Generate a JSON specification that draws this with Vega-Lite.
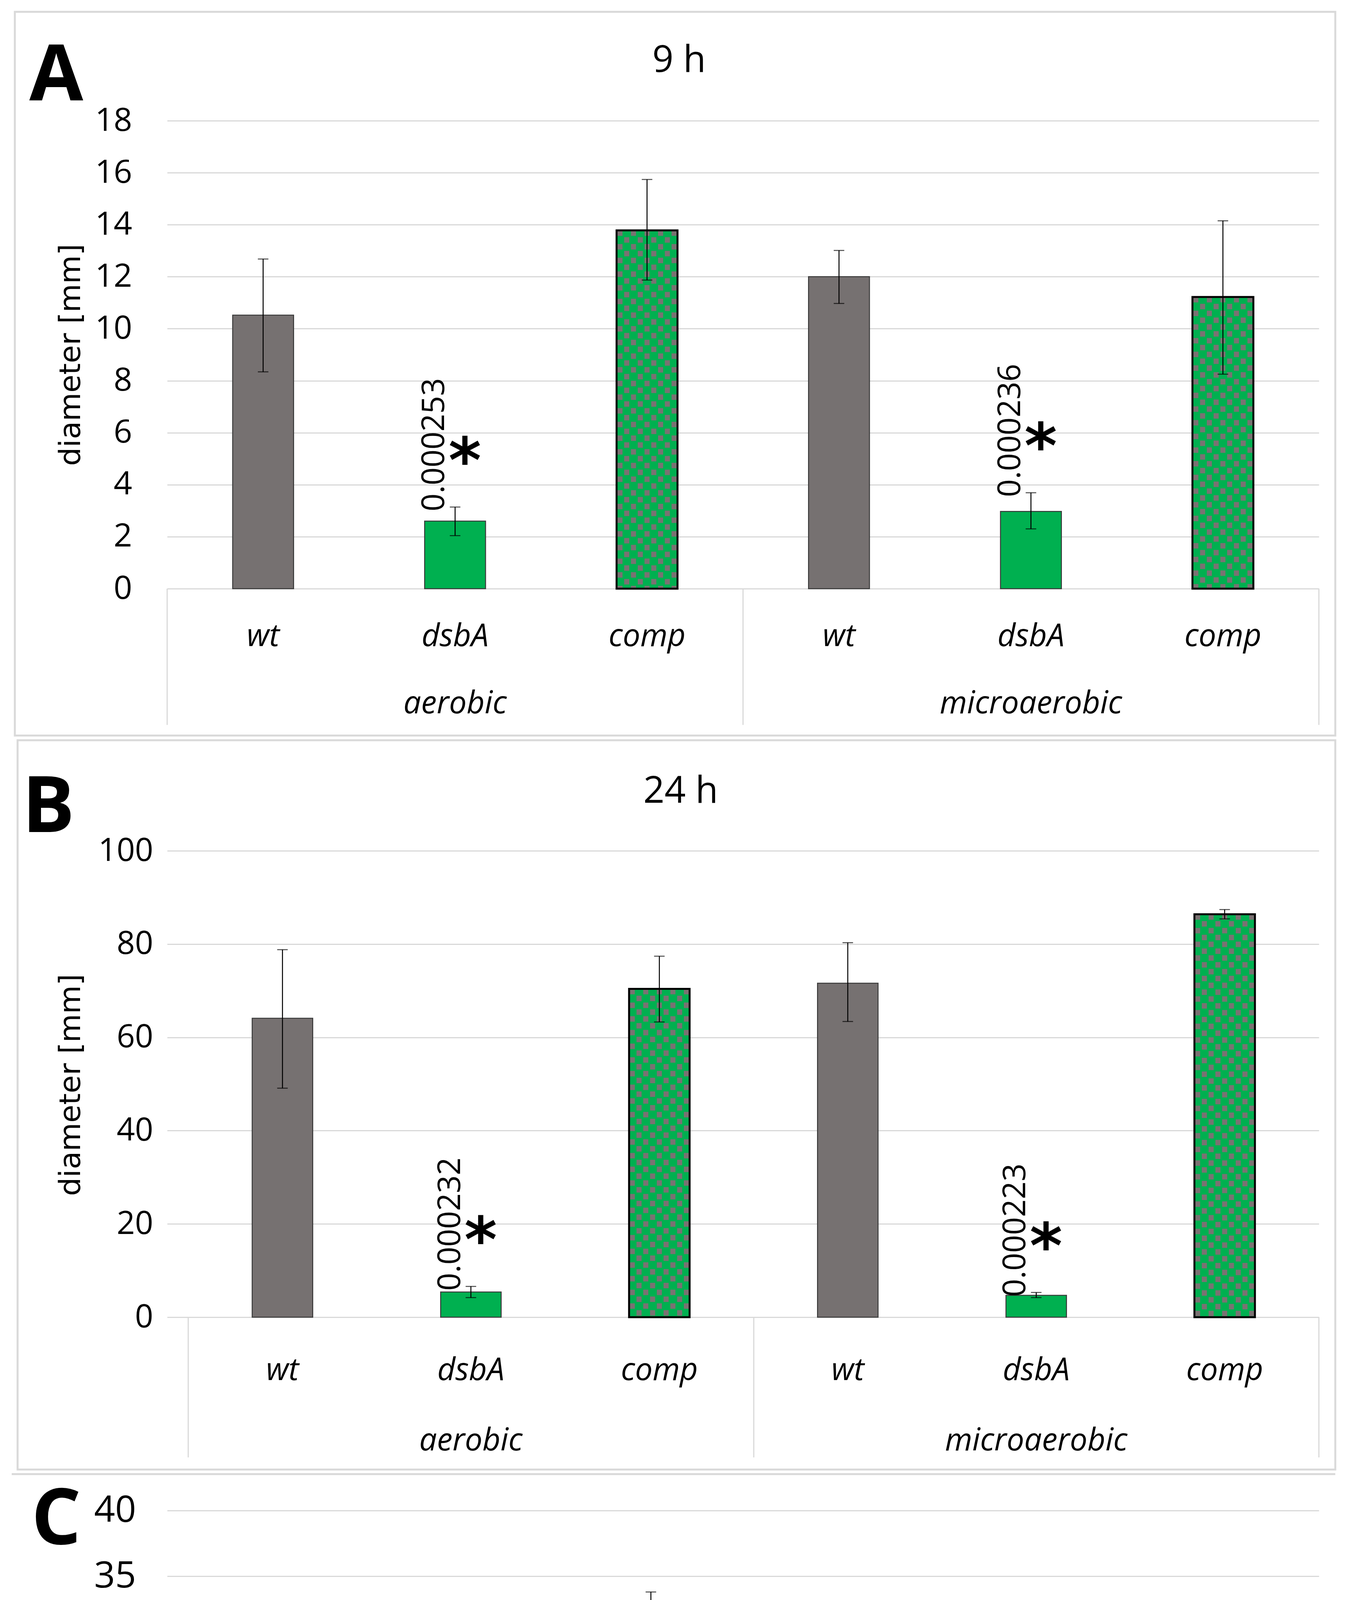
{
  "$schema": "https://vega.github.io/schema/vega-lite/v6.json",
  "background": "white",
  "autosize": {"type": "pad", "resize": true},
  "padding": {"left": 27, "top": 27, "right": 10, "bottom": 10},
  "spacing": 6,
  "config": {"view": {"stroke": null}},
  "datasets": {
    "a": [
      {"cat": "aerobic|wt", "strain": "wt", "mean": 10.52, "lo": 8.34, "hi": 12.68},
      {"cat": "aerobic|dsbA", "strain": "dsbA", "mean": 2.6, "lo": 2.04, "hi": 3.14, "p": "0.000253"},
      {"cat": "aerobic|comp", "strain": "comp", "mean": 13.78, "lo": 11.87, "hi": 15.74},
      {"cat": "microaerobic|wt", "strain": "wt", "mean": 12.0, "lo": 10.97, "hi": 13.01},
      {"cat": "microaerobic|dsbA", "strain": "dsbA", "mean": 2.97, "lo": 2.3, "hi": 3.69, "p": "0.000236"},
      {"cat": "microaerobic|comp", "strain": "comp", "mean": 11.22, "lo": 8.25, "hi": 14.15}
    ],
    "b": [
      {"cat": "aerobic|wt", "strain": "wt", "mean": 64.1, "lo": 49.1, "hi": 78.8},
      {"cat": "aerobic|dsbA", "strain": "dsbA", "mean": 5.4, "lo": 4.2, "hi": 6.6, "p": "0.000232"},
      {"cat": "aerobic|comp", "strain": "comp", "mean": 70.4, "lo": 63.3, "hi": 77.4},
      {"cat": "microaerobic|wt", "strain": "wt", "mean": 71.6, "lo": 63.4, "hi": 80.3},
      {"cat": "microaerobic|dsbA", "strain": "dsbA", "mean": 4.7, "lo": 4.2, "hi": 5.3, "p": "0.000223"},
      {"cat": "microaerobic|comp", "strain": "comp", "mean": 86.4, "lo": 85.4, "hi": 87.4}
    ],
    "c": [
      {"cat": "aerobic|wt", "strain": "wt", "mean": 28.6, "lo": 25.3, "hi": 31.9},
      {"cat": "aerobic|dsbA", "strain": "dsbA", "mean": 8.98, "lo": 7.79, "hi": 10.26, "p": "0.000223"},
      {"cat": "aerobic|comp", "strain": "comp", "mean": 31.2, "lo": 28.6, "hi": 33.8},
      {"cat": "microaerobic|wt", "strain": "wt", "mean": 27.4, "lo": 25.6, "hi": 29.2},
      {"cat": "microaerobic|dsbA", "strain": "dsbA", "mean": 6.16, "lo": 5.44, "hi": 7.0, "p": "0.000223"},
      {"cat": "microaerobic|comp", "strain": "comp", "mean": 26.2, "lo": 25.3, "hi": 27.1}
    ]
  },
  "vconcat": [
    {
      "width": 2949,
      "height": 1198,
      "resolve": {"scale": {"x": "independent", "y": "independent"}, "axis": {"x": "independent", "y": "independent"}},
      "layer": [
        {
          "data": {"name": "a"},
          "encoding": {
            "x": {"field": "cat", "type": "nominal", "sort": null,
              "scale": {"domain": ["aerobic|wt", "aerobic|dsbA", "aerobic|comp", "microaerobic|wt", "microaerobic|dsbA", "microaerobic|comp"], "paddingInner": 0.6826, "paddingOuter": 0.3413, "align": 0.5, "round": false},
              "axis": {"title": null, "labelExpr": "split(datum.value, '|')[1] == 'dsbA' ? ['dsbA', split(datum.value, '|')[0]] : split(datum.value, '|')[1]", "labelFont": "Open Sans", "labelFontStyle": "italic", "labelFontSize": 80, "labelPadding": 83, "labelLineHeight": 172, "labelBaseline": "top", "labelAngle": 0, "ticks": false, "tickSize": 0, "domain": false, "grid": false, "labelLimit": 0, "labelOverlap": false, "labelColor": "#000000"}}
          },
          "layer": [
            {
              "transform": [{"filter": "datum.strain != 'comp'"}],
              "mark": {"type": "bar", "stroke": "#3A3A3A", "strokeWidth": 2.5},
              "encoding": {
                "y": {"field": "mean", "type": "quantitative", "scale": {"domain": [0, 18], "nice": false, "zero": true},
                  "axis": {"title": "diameter [mm]", "values": [0, 2, 4, 6, 8, 10, 12, 14, 16, 18], "format": "d", "grid": true, "gridColor": "#D9D9D9", "gridWidth": 3, "ticks": false, "tickSize": 0, "domain": false, "labelFont": "Open Sans", "labelFontSize": 83, "labelPadding": 90, "labelColor": "#000000", "labelLimit": 0, "titleFont": "DejaVu Sans", "titleFontSize": 75, "titleFontWeight": "normal", "titleColor": "#000000", "titleAngle": 270, "titleAlign": "center", "titleBaseline": "alphabetic", "titleX": -224, "titleY": 599}},
                "fill": {"field": "strain", "type": "nominal", "scale": {"domain": ["wt", "dsbA"], "range": ["#767171", "#00B050"]}, "legend": null}
              }
            },
            {"transform": [{"filter": "datum.strain == 'comp'"}], "mark": {"type": "bar", "fill": "#00B050", "strokeWidth": 0}, "encoding": {"y": {"field": "mean", "type": "quantitative", "scale": {"domain": [0, 18], "nice": false, "zero": true}}}},
            {"transform": [{"filter": "datum.strain == 'comp'"}], "mark": {"type": "rule", "color": "#7A7272", "strokeWidth": 13, "strokeDash": [14, 21], "strokeDashOffset": 0, "xOffset": -69.3}, "encoding": {"y": {"field": "mean", "type": "quantitative", "scale": {"domain": [0, 18], "nice": false, "zero": true}}, "y2": {"datum": 0}}},
            {"transform": [{"filter": "datum.strain == 'comp'"}], "mark": {"type": "rule", "color": "#7A7272", "strokeWidth": 13, "strokeDash": [14, 21], "strokeDashOffset": 17.5, "xOffset": -52}, "encoding": {"y": {"field": "mean", "type": "quantitative", "scale": {"domain": [0, 18], "nice": false, "zero": true}}, "y2": {"datum": 0}}},
            {"transform": [{"filter": "datum.strain == 'comp'"}], "mark": {"type": "rule", "color": "#7A7272", "strokeWidth": 13, "strokeDash": [14, 21], "strokeDashOffset": 0, "xOffset": -34.7}, "encoding": {"y": {"field": "mean", "type": "quantitative", "scale": {"domain": [0, 18], "nice": false, "zero": true}}, "y2": {"datum": 0}}},
            {"transform": [{"filter": "datum.strain == 'comp'"}], "mark": {"type": "rule", "color": "#7A7272", "strokeWidth": 13, "strokeDash": [14, 21], "strokeDashOffset": 17.5, "xOffset": -17.3}, "encoding": {"y": {"field": "mean", "type": "quantitative", "scale": {"domain": [0, 18], "nice": false, "zero": true}}, "y2": {"datum": 0}}},
            {"transform": [{"filter": "datum.strain == 'comp'"}], "mark": {"type": "rule", "color": "#7A7272", "strokeWidth": 13, "strokeDash": [14, 21], "strokeDashOffset": 0, "xOffset": 0}, "encoding": {"y": {"field": "mean", "type": "quantitative", "scale": {"domain": [0, 18], "nice": false, "zero": true}}, "y2": {"datum": 0}}},
            {"transform": [{"filter": "datum.strain == 'comp'"}], "mark": {"type": "rule", "color": "#7A7272", "strokeWidth": 13, "strokeDash": [14, 21], "strokeDashOffset": 17.5, "xOffset": 17.3}, "encoding": {"y": {"field": "mean", "type": "quantitative", "scale": {"domain": [0, 18], "nice": false, "zero": true}}, "y2": {"datum": 0}}},
            {"transform": [{"filter": "datum.strain == 'comp'"}], "mark": {"type": "rule", "color": "#7A7272", "strokeWidth": 13, "strokeDash": [14, 21], "strokeDashOffset": 0, "xOffset": 34.7}, "encoding": {"y": {"field": "mean", "type": "quantitative", "scale": {"domain": [0, 18], "nice": false, "zero": true}}, "y2": {"datum": 0}}},
            {"transform": [{"filter": "datum.strain == 'comp'"}], "mark": {"type": "rule", "color": "#7A7272", "strokeWidth": 13, "strokeDash": [14, 21], "strokeDashOffset": 17.5, "xOffset": 52}, "encoding": {"y": {"field": "mean", "type": "quantitative", "scale": {"domain": [0, 18], "nice": false, "zero": true}}, "y2": {"datum": 0}}},
            {"transform": [{"filter": "datum.strain == 'comp'"}], "mark": {"type": "rule", "color": "#7A7272", "strokeWidth": 13, "strokeDash": [14, 21], "strokeDashOffset": 0, "xOffset": 69.3}, "encoding": {"y": {"field": "mean", "type": "quantitative", "scale": {"domain": [0, 18], "nice": false, "zero": true}}, "y2": {"datum": 0}}},
            {"transform": [{"filter": "datum.strain == 'comp'"}], "mark": {"type": "bar", "fillOpacity": 0, "stroke": "#000000", "strokeWidth": 5}, "encoding": {"y": {"field": "mean", "type": "quantitative", "scale": {"domain": [0, 18], "nice": false, "zero": true}}}},
            {
              "mark": {"type": "rule", "color": "#000000", "strokeWidth": 2.5},
              "encoding": {"y": {"field": "lo", "type": "quantitative", "scale": {"domain": [0, 18], "nice": false, "zero": true}}, "y2": {"field": "hi"}}
            },
            {
              "mark": {"type": "tick", "color": "#000000", "size": 27, "thickness": 2.5},
              "encoding": {"y": {"field": "hi", "type": "quantitative", "scale": {"domain": [0, 18], "nice": false, "zero": true}}}
            },
            {
              "mark": {"type": "tick", "color": "#000000", "size": 27, "thickness": 2.5},
              "encoding": {"y": {"field": "lo", "type": "quantitative", "scale": {"domain": [0, 18], "nice": false, "zero": true}}}
            },
            {
              "transform": [{"filter": "datum.p != null"}],
              "mark": {"type": "text", "angle": 270, "align": "left", "baseline": "bottom", "font": "Open Sans", "fontSize": 80, "dx": -11, "dy": -11, "color": "#000000"},
              "encoding": {"y": {"field": "hi", "type": "quantitative", "scale": {"domain": [0, 18], "nice": false, "zero": true}}, "text": {"field": "p", "type": "nominal"}}
            },
            {
              "transform": [{"filter": "datum.p != null"}],
              "mark": {"type": "text", "text": "*", "font": "DejaVu Sans", "fontWeight": "bold", "fontSize": 160, "align": "center", "baseline": "alphabetic", "dx": 25, "dy": -63, "color": "#000000"},
              "encoding": {"y": {"field": "hi", "type": "quantitative", "scale": {"domain": [0, 18], "nice": false, "zero": true}}}
            }
          ]
        },
        {
          "data": {"values": [{}]},
          "layer": [
            {
              "mark": {"type": "rect", "filled": false, "stroke": "#D9D9D9", "strokeWidth": 5},
              "encoding": {
                "x": {"datum": -0.7935, "type": "quantitative", "scale": {"domain": [0, 6], "nice": false, "zero": false}, "axis": null},
                "x2": {"datum": 6.0855},
                "y": {"datum": 22.19, "type": "quantitative", "scale": {"domain": [0, 18], "nice": false, "zero": true}, "axis": null},
                "y2": {"datum": -5.65}
              }
            },
            {
              "mark": {"type": "rule", "color": "#D9D9D9", "strokeWidth": 3},
              "encoding": {
                "x": {"datum": 0, "type": "quantitative", "scale": {"domain": [0, 6], "nice": false, "zero": false}, "axis": null},
                "y": {"datum": 0, "type": "quantitative", "scale": {"domain": [0, 18], "nice": false, "zero": true}, "axis": null},
                "y2": {"datum": -5.24}
              }
            },
            {
              "mark": {"type": "rule", "color": "#D9D9D9", "strokeWidth": 3},
              "encoding": {
                "x": {"datum": 3.0, "type": "quantitative", "scale": {"domain": [0, 6], "nice": false, "zero": false}, "axis": null},
                "y": {"datum": 0, "type": "quantitative", "scale": {"domain": [0, 18], "nice": false, "zero": true}, "axis": null},
                "y2": {"datum": -5.24}
              }
            },
            {
              "mark": {"type": "rule", "color": "#D9D9D9", "strokeWidth": 3},
              "encoding": {
                "x": {"datum": 6.0, "type": "quantitative", "scale": {"domain": [0, 6], "nice": false, "zero": false}, "axis": null},
                "y": {"datum": 0, "type": "quantitative", "scale": {"domain": [0, 18], "nice": false, "zero": true}, "axis": null},
                "y2": {"datum": -5.24}
              }
            },
            {
              "mark": {"type": "text", "text": "A", "font": "Open Sans", "fontWeight": "bold", "fontSize": 200, "align": "center", "baseline": "alphabetic", "color": "#000000"},
              "encoding": {
                "x": {"datum": -0.578, "type": "quantitative", "scale": {"domain": [0, 6], "nice": false, "zero": false}, "axis": null},
                "y": {"datum": 18.78, "type": "quantitative", "scale": {"domain": [0, 18], "nice": false, "zero": true}, "axis": null}
              }
            },
            {
              "mark": {"type": "text", "text": "9 h", "font": "Open Sans", "fontSize": 95, "align": "center", "baseline": "alphabetic", "color": "#000000"},
              "encoding": {
                "x": {"datum": 2.667, "type": "quantitative", "scale": {"domain": [0, 6], "nice": false, "zero": false}, "axis": null},
                "y": {"datum": 19.877, "type": "quantitative", "scale": {"domain": [0, 18], "nice": false, "zero": true}, "axis": null}
              }
            }
          ]
        }
      ]
    },
    {
      "width": 2949,
      "height": 1380,
      "resolve": {"scale": {"x": "independent", "y": "independent"}, "axis": {"x": "independent", "y": "independent"}},
      "layer": [
        {
          "data": {"name": "b"},
          "encoding": {
            "x": {"field": "cat", "type": "nominal", "sort": null,
              "scale": {"domain": ["aerobic|wt", "aerobic|dsbA", "aerobic|comp", "microaerobic|wt", "microaerobic|dsbA", "microaerobic|comp"], "paddingInner": 0.6788, "paddingOuter": 0.3953, "align": 0.5708, "round": false},
              "axis": {"title": null, "labelExpr": "split(datum.value, '|')[1] == 'dsbA' ? ['dsbA', split(datum.value, '|')[0]] : split(datum.value, '|')[1]", "labelFont": "Open Sans", "labelFontStyle": "italic", "labelFontSize": 80, "labelPadding": 97, "labelLineHeight": 180, "labelBaseline": "top", "labelAngle": 0, "ticks": false, "tickSize": 0, "domain": false, "grid": false, "labelLimit": 0, "labelOverlap": false, "labelColor": "#000000"}}
          },
          "layer": [
            {
              "transform": [{"filter": "datum.strain != 'comp'"}],
              "mark": {"type": "bar", "stroke": "#3A3A3A", "strokeWidth": 2.5},
              "encoding": {
                "y": {"field": "mean", "type": "quantitative", "scale": {"domain": [0, 115.58], "nice": false, "zero": true},
                  "axis": {"title": "diameter [mm]", "values": [0, 20, 40, 60, 80, 100], "format": "d", "grid": true, "gridColor": "#D9D9D9", "gridWidth": 3, "ticks": false, "tickSize": 0, "domain": false, "labelFont": "Open Sans", "labelFontSize": 82, "labelPadding": 36, "labelColor": "#000000", "labelLimit": 0, "titleFont": "DejaVu Sans", "titleFontSize": 75, "titleFontWeight": "normal", "titleColor": "#000000", "titleAngle": 270, "titleAlign": "center", "titleBaseline": "alphabetic", "titleX": -224, "titleY": 785}},
                "fill": {"field": "strain", "type": "nominal", "scale": {"domain": ["wt", "dsbA"], "range": ["#767171", "#00B050"]}, "legend": null}
              }
            },
            {"transform": [{"filter": "datum.strain == 'comp'"}], "mark": {"type": "bar", "fill": "#00B050", "strokeWidth": 0}, "encoding": {"y": {"field": "mean", "type": "quantitative", "scale": {"domain": [0, 115.58], "nice": false, "zero": true}}}},
            {"transform": [{"filter": "datum.strain == 'comp'"}], "mark": {"type": "rule", "color": "#7A7272", "strokeWidth": 13, "strokeDash": [14, 21], "strokeDashOffset": 0, "xOffset": -69.3}, "encoding": {"y": {"field": "mean", "type": "quantitative", "scale": {"domain": [0, 115.58], "nice": false, "zero": true}}, "y2": {"datum": 0}}},
            {"transform": [{"filter": "datum.strain == 'comp'"}], "mark": {"type": "rule", "color": "#7A7272", "strokeWidth": 13, "strokeDash": [14, 21], "strokeDashOffset": 17.5, "xOffset": -52}, "encoding": {"y": {"field": "mean", "type": "quantitative", "scale": {"domain": [0, 115.58], "nice": false, "zero": true}}, "y2": {"datum": 0}}},
            {"transform": [{"filter": "datum.strain == 'comp'"}], "mark": {"type": "rule", "color": "#7A7272", "strokeWidth": 13, "strokeDash": [14, 21], "strokeDashOffset": 0, "xOffset": -34.7}, "encoding": {"y": {"field": "mean", "type": "quantitative", "scale": {"domain": [0, 115.58], "nice": false, "zero": true}}, "y2": {"datum": 0}}},
            {"transform": [{"filter": "datum.strain == 'comp'"}], "mark": {"type": "rule", "color": "#7A7272", "strokeWidth": 13, "strokeDash": [14, 21], "strokeDashOffset": 17.5, "xOffset": -17.3}, "encoding": {"y": {"field": "mean", "type": "quantitative", "scale": {"domain": [0, 115.58], "nice": false, "zero": true}}, "y2": {"datum": 0}}},
            {"transform": [{"filter": "datum.strain == 'comp'"}], "mark": {"type": "rule", "color": "#7A7272", "strokeWidth": 13, "strokeDash": [14, 21], "strokeDashOffset": 0, "xOffset": 0}, "encoding": {"y": {"field": "mean", "type": "quantitative", "scale": {"domain": [0, 115.58], "nice": false, "zero": true}}, "y2": {"datum": 0}}},
            {"transform": [{"filter": "datum.strain == 'comp'"}], "mark": {"type": "rule", "color": "#7A7272", "strokeWidth": 13, "strokeDash": [14, 21], "strokeDashOffset": 17.5, "xOffset": 17.3}, "encoding": {"y": {"field": "mean", "type": "quantitative", "scale": {"domain": [0, 115.58], "nice": false, "zero": true}}, "y2": {"datum": 0}}},
            {"transform": [{"filter": "datum.strain == 'comp'"}], "mark": {"type": "rule", "color": "#7A7272", "strokeWidth": 13, "strokeDash": [14, 21], "strokeDashOffset": 0, "xOffset": 34.7}, "encoding": {"y": {"field": "mean", "type": "quantitative", "scale": {"domain": [0, 115.58], "nice": false, "zero": true}}, "y2": {"datum": 0}}},
            {"transform": [{"filter": "datum.strain == 'comp'"}], "mark": {"type": "rule", "color": "#7A7272", "strokeWidth": 13, "strokeDash": [14, 21], "strokeDashOffset": 17.5, "xOffset": 52}, "encoding": {"y": {"field": "mean", "type": "quantitative", "scale": {"domain": [0, 115.58], "nice": false, "zero": true}}, "y2": {"datum": 0}}},
            {"transform": [{"filter": "datum.strain == 'comp'"}], "mark": {"type": "rule", "color": "#7A7272", "strokeWidth": 13, "strokeDash": [14, 21], "strokeDashOffset": 0, "xOffset": 69.3}, "encoding": {"y": {"field": "mean", "type": "quantitative", "scale": {"domain": [0, 115.58], "nice": false, "zero": true}}, "y2": {"datum": 0}}},
            {"transform": [{"filter": "datum.strain == 'comp'"}], "mark": {"type": "bar", "fillOpacity": 0, "stroke": "#000000", "strokeWidth": 5}, "encoding": {"y": {"field": "mean", "type": "quantitative", "scale": {"domain": [0, 115.58], "nice": false, "zero": true}}}},
            {
              "mark": {"type": "rule", "color": "#000000", "strokeWidth": 2.5},
              "encoding": {"y": {"field": "lo", "type": "quantitative", "scale": {"domain": [0, 115.58], "nice": false, "zero": true}}, "y2": {"field": "hi"}}
            },
            {
              "mark": {"type": "tick", "color": "#000000", "size": 27, "thickness": 2.5},
              "encoding": {"y": {"field": "hi", "type": "quantitative", "scale": {"domain": [0, 115.58], "nice": false, "zero": true}}}
            },
            {
              "mark": {"type": "tick", "color": "#000000", "size": 27, "thickness": 2.5},
              "encoding": {"y": {"field": "lo", "type": "quantitative", "scale": {"domain": [0, 115.58], "nice": false, "zero": true}}}
            },
            {
              "transform": [{"filter": "datum.p != null"}],
              "mark": {"type": "text", "angle": 270, "align": "left", "baseline": "bottom", "font": "Open Sans", "fontSize": 80, "dx": -11, "dy": -11, "color": "#000000"},
              "encoding": {"y": {"field": "hi", "type": "quantitative", "scale": {"domain": [0, 115.58], "nice": false, "zero": true}}, "text": {"field": "p", "type": "nominal"}}
            },
            {
              "transform": [{"filter": "datum.p != null"}],
              "mark": {"type": "text", "text": "*", "font": "DejaVu Sans", "fontWeight": "bold", "fontSize": 160, "align": "center", "baseline": "alphabetic", "dx": 25, "dy": -63, "color": "#000000"},
              "encoding": {"y": {"field": "hi", "type": "quantitative", "scale": {"domain": [0, 115.58], "nice": false, "zero": true}}}
            }
          ]
        },
        {
          "data": {"values": [{}]},
          "layer": [
            {
              "mark": {"type": "rect", "filled": false, "stroke": "#D9D9D9", "strokeWidth": 5},
              "encoding": {
                "x": {"datum": -0.7792, "type": "quantitative", "scale": {"domain": [0, 6], "nice": false, "zero": false}, "axis": null},
                "x2": {"datum": 6.0855},
                "y": {"datum": 123.7, "type": "quantitative", "scale": {"domain": [0, 115.58], "nice": false, "zero": true}, "axis": null},
                "y2": {"datum": -32.66}
              }
            },
            {
              "mark": {"type": "rule", "color": "#D9D9D9", "strokeWidth": 3},
              "encoding": {
                "x": {"datum": 0.1099, "type": "quantitative", "scale": {"domain": [0, 6], "nice": false, "zero": false}, "axis": null},
                "y": {"datum": 0, "type": "quantitative", "scale": {"domain": [0, 115.58], "nice": false, "zero": true}, "axis": null},
                "y2": {"datum": -30.07}
              }
            },
            {
              "mark": {"type": "rule", "color": "#D9D9D9", "strokeWidth": 3},
              "encoding": {
                "x": {"datum": 3.0559, "type": "quantitative", "scale": {"domain": [0, 6], "nice": false, "zero": false}, "axis": null},
                "y": {"datum": 0, "type": "quantitative", "scale": {"domain": [0, 115.58], "nice": false, "zero": true}, "axis": null},
                "y2": {"datum": -30.07}
              }
            },
            {
              "mark": {"type": "rule", "color": "#D9D9D9", "strokeWidth": 3},
              "encoding": {
                "x": {"datum": 6.0, "type": "quantitative", "scale": {"domain": [0, 6], "nice": false, "zero": false}, "axis": null},
                "y": {"datum": 0, "type": "quantitative", "scale": {"domain": [0, 115.58], "nice": false, "zero": true}, "axis": null},
                "y2": {"datum": -30.07}
              }
            },
            {
              "mark": {"type": "text", "text": "B", "font": "Open Sans", "fontWeight": "bold", "fontSize": 200, "align": "center", "baseline": "alphabetic", "color": "#000000"},
              "encoding": {
                "x": {"datum": -0.6185, "type": "quantitative", "scale": {"domain": [0, 6], "nice": false, "zero": false}, "axis": null},
                "y": {"datum": 104.02, "type": "quantitative", "scale": {"domain": [0, 115.58], "nice": false, "zero": true}, "axis": null}
              }
            },
            {
              "mark": {"type": "text", "text": "24 h", "font": "Open Sans", "fontSize": 95, "align": "center", "baseline": "alphabetic", "color": "#000000"},
              "encoding": {
                "x": {"datum": 2.6755, "type": "quantitative", "scale": {"domain": [0, 6], "nice": false, "zero": false}, "axis": null},
                "y": {"datum": 110.3, "type": "quantitative", "scale": {"domain": [0, 115.58], "nice": false, "zero": true}, "axis": null}
              }
            }
          ]
        }
      ]
    },
    {
      "width": 2949,
      "height": 1345,
      "resolve": {"scale": {"x": "independent", "y": "independent"}, "axis": {"x": "independent", "y": "independent"}},
      "layer": [
        {
          "data": {"name": "c"},
          "encoding": {
            "x": {"field": "cat", "type": "nominal", "sort": null,
              "scale": {"domain": ["aerobic|wt", "aerobic|dsbA", "aerobic|comp", "microaerobic|wt", "microaerobic|dsbA", "microaerobic|comp"], "paddingInner": 0.6849, "paddingOuter": 0.3598, "align": 0.524, "round": false},
              "axis": {"title": null, "labelExpr": "split(datum.value, '|')[1] == 'dsbA' ? ['dsbA', split(datum.value, '|')[0]] : split(datum.value, '|')[1]", "labelFont": "Open Sans", "labelFontStyle": "italic", "labelFontSize": 93, "labelPadding": 95, "labelLineHeight": 202, "labelBaseline": "top", "labelAngle": 0, "ticks": false, "tickSize": 0, "domain": false, "grid": false, "labelLimit": 0, "labelOverlap": false, "labelColor": "#000000"}}
          },
          "layer": [
            {
              "transform": [{"filter": "datum.strain != 'comp'"}],
              "mark": {"type": "bar", "stroke": "#3A3A3A", "strokeWidth": 2.5},
              "encoding": {
                "y": {"field": "mean", "type": "quantitative", "scale": {"domain": [0, 40], "nice": false, "zero": true},
                  "axis": {"title": "diameter [mm]", "values": [0, 5, 10, 15, 20, 25, 30, 35, 40], "format": "d", "grid": true, "gridColor": "#D9D9D9", "gridWidth": 3, "ticks": false, "tickSize": 0, "domain": false, "labelFont": "Open Sans", "labelFontSize": 94, "labelPadding": 80, "labelColor": "#000000", "labelLimit": 0, "titleFont": "DejaVu Sans", "titleFontSize": 85, "titleFontWeight": "normal", "titleColor": "#000000", "titleAngle": 270, "titleAlign": "center", "titleBaseline": "alphabetic", "titleX": -240, "titleY": 676}},
                "fill": {"field": "strain", "type": "nominal", "scale": {"domain": ["wt", "dsbA"], "range": ["#767171", "#00B050"]}, "legend": null}
              }
            },
            {"transform": [{"filter": "datum.strain == 'comp'"}], "mark": {"type": "bar", "fill": "#00B050", "strokeWidth": 0}, "encoding": {"y": {"field": "mean", "type": "quantitative", "scale": {"domain": [0, 40], "nice": false, "zero": true}}}},
            {"transform": [{"filter": "datum.strain == 'comp'"}], "mark": {"type": "rule", "color": "#7A7272", "strokeWidth": 13, "strokeDash": [14, 21], "strokeDashOffset": 0, "xOffset": -69.3}, "encoding": {"y": {"field": "mean", "type": "quantitative", "scale": {"domain": [0, 40], "nice": false, "zero": true}}, "y2": {"datum": 0}}},
            {"transform": [{"filter": "datum.strain == 'comp'"}], "mark": {"type": "rule", "color": "#7A7272", "strokeWidth": 13, "strokeDash": [14, 21], "strokeDashOffset": 17.5, "xOffset": -52}, "encoding": {"y": {"field": "mean", "type": "quantitative", "scale": {"domain": [0, 40], "nice": false, "zero": true}}, "y2": {"datum": 0}}},
            {"transform": [{"filter": "datum.strain == 'comp'"}], "mark": {"type": "rule", "color": "#7A7272", "strokeWidth": 13, "strokeDash": [14, 21], "strokeDashOffset": 0, "xOffset": -34.7}, "encoding": {"y": {"field": "mean", "type": "quantitative", "scale": {"domain": [0, 40], "nice": false, "zero": true}}, "y2": {"datum": 0}}},
            {"transform": [{"filter": "datum.strain == 'comp'"}], "mark": {"type": "rule", "color": "#7A7272", "strokeWidth": 13, "strokeDash": [14, 21], "strokeDashOffset": 17.5, "xOffset": -17.3}, "encoding": {"y": {"field": "mean", "type": "quantitative", "scale": {"domain": [0, 40], "nice": false, "zero": true}}, "y2": {"datum": 0}}},
            {"transform": [{"filter": "datum.strain == 'comp'"}], "mark": {"type": "rule", "color": "#7A7272", "strokeWidth": 13, "strokeDash": [14, 21], "strokeDashOffset": 0, "xOffset": 0}, "encoding": {"y": {"field": "mean", "type": "quantitative", "scale": {"domain": [0, 40], "nice": false, "zero": true}}, "y2": {"datum": 0}}},
            {"transform": [{"filter": "datum.strain == 'comp'"}], "mark": {"type": "rule", "color": "#7A7272", "strokeWidth": 13, "strokeDash": [14, 21], "strokeDashOffset": 17.5, "xOffset": 17.3}, "encoding": {"y": {"field": "mean", "type": "quantitative", "scale": {"domain": [0, 40], "nice": false, "zero": true}}, "y2": {"datum": 0}}},
            {"transform": [{"filter": "datum.strain == 'comp'"}], "mark": {"type": "rule", "color": "#7A7272", "strokeWidth": 13, "strokeDash": [14, 21], "strokeDashOffset": 0, "xOffset": 34.7}, "encoding": {"y": {"field": "mean", "type": "quantitative", "scale": {"domain": [0, 40], "nice": false, "zero": true}}, "y2": {"datum": 0}}},
            {"transform": [{"filter": "datum.strain == 'comp'"}], "mark": {"type": "rule", "color": "#7A7272", "strokeWidth": 13, "strokeDash": [14, 21], "strokeDashOffset": 17.5, "xOffset": 52}, "encoding": {"y": {"field": "mean", "type": "quantitative", "scale": {"domain": [0, 40], "nice": false, "zero": true}}, "y2": {"datum": 0}}},
            {"transform": [{"filter": "datum.strain == 'comp'"}], "mark": {"type": "rule", "color": "#7A7272", "strokeWidth": 13, "strokeDash": [14, 21], "strokeDashOffset": 0, "xOffset": 69.3}, "encoding": {"y": {"field": "mean", "type": "quantitative", "scale": {"domain": [0, 40], "nice": false, "zero": true}}, "y2": {"datum": 0}}},
            {"transform": [{"filter": "datum.strain == 'comp'"}], "mark": {"type": "bar", "fillOpacity": 0, "stroke": "#000000", "strokeWidth": 5}, "encoding": {"y": {"field": "mean", "type": "quantitative", "scale": {"domain": [0, 40], "nice": false, "zero": true}}}},
            {
              "mark": {"type": "rule", "color": "#000000", "strokeWidth": 2.5},
              "encoding": {"y": {"field": "lo", "type": "quantitative", "scale": {"domain": [0, 40], "nice": false, "zero": true}}, "y2": {"field": "hi"}}
            },
            {
              "mark": {"type": "tick", "color": "#000000", "size": 27, "thickness": 2.5},
              "encoding": {"y": {"field": "hi", "type": "quantitative", "scale": {"domain": [0, 40], "nice": false, "zero": true}}}
            },
            {
              "mark": {"type": "tick", "color": "#000000", "size": 27, "thickness": 2.5},
              "encoding": {"y": {"field": "lo", "type": "quantitative", "scale": {"domain": [0, 40], "nice": false, "zero": true}}}
            },
            {
              "transform": [{"filter": "datum.p != null"}],
              "mark": {"type": "text", "angle": 270, "align": "left", "baseline": "bottom", "font": "Open Sans", "fontSize": 80, "dx": -11, "dy": -11, "color": "#000000"},
              "encoding": {"y": {"field": "hi", "type": "quantitative", "scale": {"domain": [0, 40], "nice": false, "zero": true}}, "text": {"field": "p", "type": "nominal"}}
            },
            {
              "transform": [{"filter": "datum.p != null"}],
              "mark": {"type": "text", "text": "*", "font": "DejaVu Sans", "fontWeight": "bold", "fontSize": 160, "align": "center", "baseline": "alphabetic", "dx": 25, "dy": -63, "color": "#000000"},
              "encoding": {"y": {"field": "hi", "type": "quantitative", "scale": {"domain": [0, 40], "nice": false, "zero": true}}}
            }
          ]
        },
        {
          "data": {"values": [{}]},
          "layer": [
            {
              "mark": {"type": "rule", "color": "#D9D9D9", "strokeWidth": 5},
              "encoding": {
                "x": {"datum": -0.8098, "type": "quantitative", "scale": {"domain": [0, 6], "nice": false, "zero": false}, "axis": null},
                "x2": {"datum": 6.0855},
                "y": {"datum": 42.77, "type": "quantitative", "scale": {"domain": [0, 40], "nice": false, "zero": true}, "axis": null}
              }
            },
            {
              "mark": {"type": "rule", "color": "#D9D9D9", "strokeWidth": 3},
              "encoding": {
                "x": {"datum": 0.0346, "type": "quantitative", "scale": {"domain": [0, 6], "nice": false, "zero": false}, "axis": null},
                "y": {"datum": 0, "type": "quantitative", "scale": {"domain": [0, 40], "nice": false, "zero": true}, "axis": null},
                "y2": {"datum": -12.01}
              }
            },
            {
              "mark": {"type": "rule", "color": "#D9D9D9", "strokeWidth": 3},
              "encoding": {
                "x": {"datum": 3.0234, "type": "quantitative", "scale": {"domain": [0, 6], "nice": false, "zero": false}, "axis": null},
                "y": {"datum": 0, "type": "quantitative", "scale": {"domain": [0, 40], "nice": false, "zero": true}, "axis": null},
                "y2": {"datum": -12.01}
              }
            },
            {
              "mark": {"type": "rule", "color": "#D9D9D9", "strokeWidth": 3},
              "encoding": {
                "x": {"datum": 6.0, "type": "quantitative", "scale": {"domain": [0, 6], "nice": false, "zero": false}, "axis": null},
                "y": {"datum": 0, "type": "quantitative", "scale": {"domain": [0, 40], "nice": false, "zero": true}, "axis": null},
                "y2": {"datum": -12.01}
              }
            },
            {
              "mark": {"type": "text", "text": "C", "font": "Open Sans", "fontWeight": "bold", "fontSize": 200, "align": "center", "baseline": "alphabetic", "color": "#000000"},
              "encoding": {
                "x": {"datum": -0.578, "type": "quantitative", "scale": {"domain": [0, 6], "nice": false, "zero": false}, "axis": null},
                "y": {"datum": 37.44, "type": "quantitative", "scale": {"domain": [0, 40], "nice": false, "zero": true}, "axis": null}
              }
            }
          ]
        }
      ]
    }
  ]
}
